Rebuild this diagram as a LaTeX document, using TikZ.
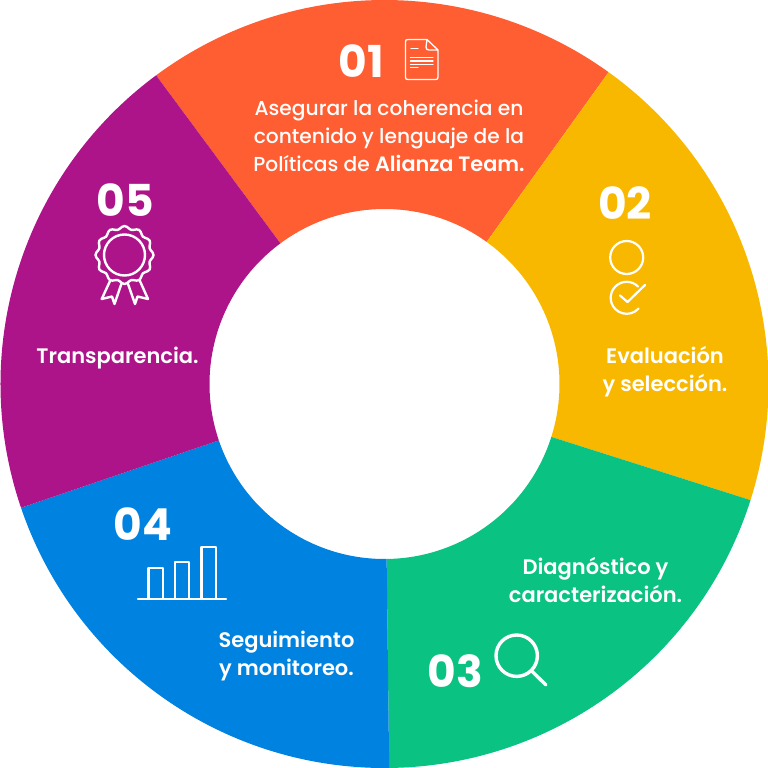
\documentclass[tikz,border=0pt]{standalone}
\usepackage{fontspec}
\setmainfont{Poppins}
\newfontfamily\semifont{Poppins SemiBold}
\newfontfamily\medfont{Poppins Medium}
\usepackage{tikz}
\definecolor{orangeseg}{HTML}{FF5E32}
\definecolor{yellowseg}{HTML}{F9B800}
\definecolor{greenseg}{HTML}{0AC282}
\definecolor{blueseg}{HTML}{0082E0}
\definecolor{purpleseg}{HTML}{AE1489}
\tikzset{
	numlab/.style={text=white,inner sep=0pt,font=\fontsize{44}{44}\selectfont\bfseries},
	mainlab/.style={text=white,inner sep=0pt,align=center,font=\fontsize{21}{28}\selectfont\semifont},
	longlab/.style={text=white,inner sep=0pt,align=center,font=\fontsize{20.2}{28}\selectfont\medfont},
	icon/.style={draw=white,line width=2.2pt,line join=round,line cap=round},
}
\begin{document}
\begin{tikzpicture}[x=1pt,y=-1pt]
		\useasboundingbox (0,0) rectangle (768,768);
		\foreach \sa/\ea/\col in {-126.5/-54.3/orangeseg,-54.3/17.6/yellowseg,17.6/89.3/greenseg,89.3/161.2/blueseg,161.2/233.5/purpleseg}
		{
			\fill[\col,shift={(384.5,384)}] (\sa:384) arc[start angle=\sa,end angle=\ea,radius=384] -- (\ea:175) arc[start angle=\ea,end angle=\sa,radius=175] -- cycle;
		}
		% numbers
		\node[numlab] (num1) at (361,61) {01};
		\node[numlab] (num2) at (625,203) {02};
		\node[numlab] (num3) at (455.5,671) {03};
		\node[numlab] (num4) at (143,524) {04};
		\node[numlab] (num5) at (125,200) {05};
		% texts
		\node[longlab] (txt1) at (389,136) {Asegurar la coherencia en\\contenido y lenguaje de la\\Políticas de {\fontsize{20.8}{28}\selectfont\semifont Alianza Team.}};
		\node[mainlab] (txt2) at (665,371.5) {Evaluación\\y selección.};
		\node[mainlab] (txt3) at (595.5,579.5) {Diagnóstico y\\caracterización.};
		\node[mainlab] (txt4) at (286.5,656.5) {Seguimiento\\y monitoreo.};
		\node[mainlab] (txt5) at (117.5,358.5) {Transparencia.};
		% document
		\draw[icon,line width=1.3pt] (427,39.5) -- (408,39.5) .. controls (406,39.5) and (405.5,40) .. (405.5,42) -- (405.5,77) .. controls (405.5,79) and (406,79.5) .. (408,79.5) -- (435.5,79.5) .. controls (437.5,79.5) and (438,79) .. (438,77) -- (438,50) -- (427,39.5) -- (426,47) .. controls (426,49) and (427,50) .. (429,50) -- (438,50);
		\draw[icon,line width=1.2pt] (411,48.5) -- (418,48.5) (410.5,57.5) -- (433,57.5) (410.5,61) -- (433,61) (410.5,64.5) -- (433,64.5) (410.5,67.5) -- (418,67.5);
		% circle and check
		\draw[icon] (626.7,257.5) circle[radius=16.5];
		\draw[icon] (638,286.5) arc[start angle=-45,end angle=-318,radius=16];
		\draw[icon] (620,295.5) -- (627.5,302) -- (645,285);
		% magnifier
		\draw[icon,line width=3.4pt] (516.7,655.7) circle[radius=20.7];
		\draw[icon,line width=3.4pt] (531.7,671) -- (546,685);
		% bars
		\draw[icon] (138,599) -- (226,599);
		\foreach \xa/\xb/\yt in {148.5/163/568,175/189/562,201.5/216/547}
		{
			\draw[icon] (\xa,599) -- (\xa,\yt) -- (\xb,\yt) -- (\xb,599);
		}
		% rosette
		\draw[icon,line width=2.4pt,shift={(124.5,255)}] plot[smooth cycle,samples=72,domain=0:355] ({\x}:{27.5+1.5*cos(12*\x)});
		\draw[icon,line width=2.4pt] (124.5,255) circle[radius=20.5];
		\draw[icon,line width=2.4pt] (110.5,280) -- (101.7,299) -- (112,296.5) -- (114.5,304) -- (121.7,283);
		\draw[icon,line width=2.4pt] (127.7,283) -- (135,304) -- (137.5,296.5) -- (148,299) -- (139.5,280);
	\end{tikzpicture}
\end{document}
